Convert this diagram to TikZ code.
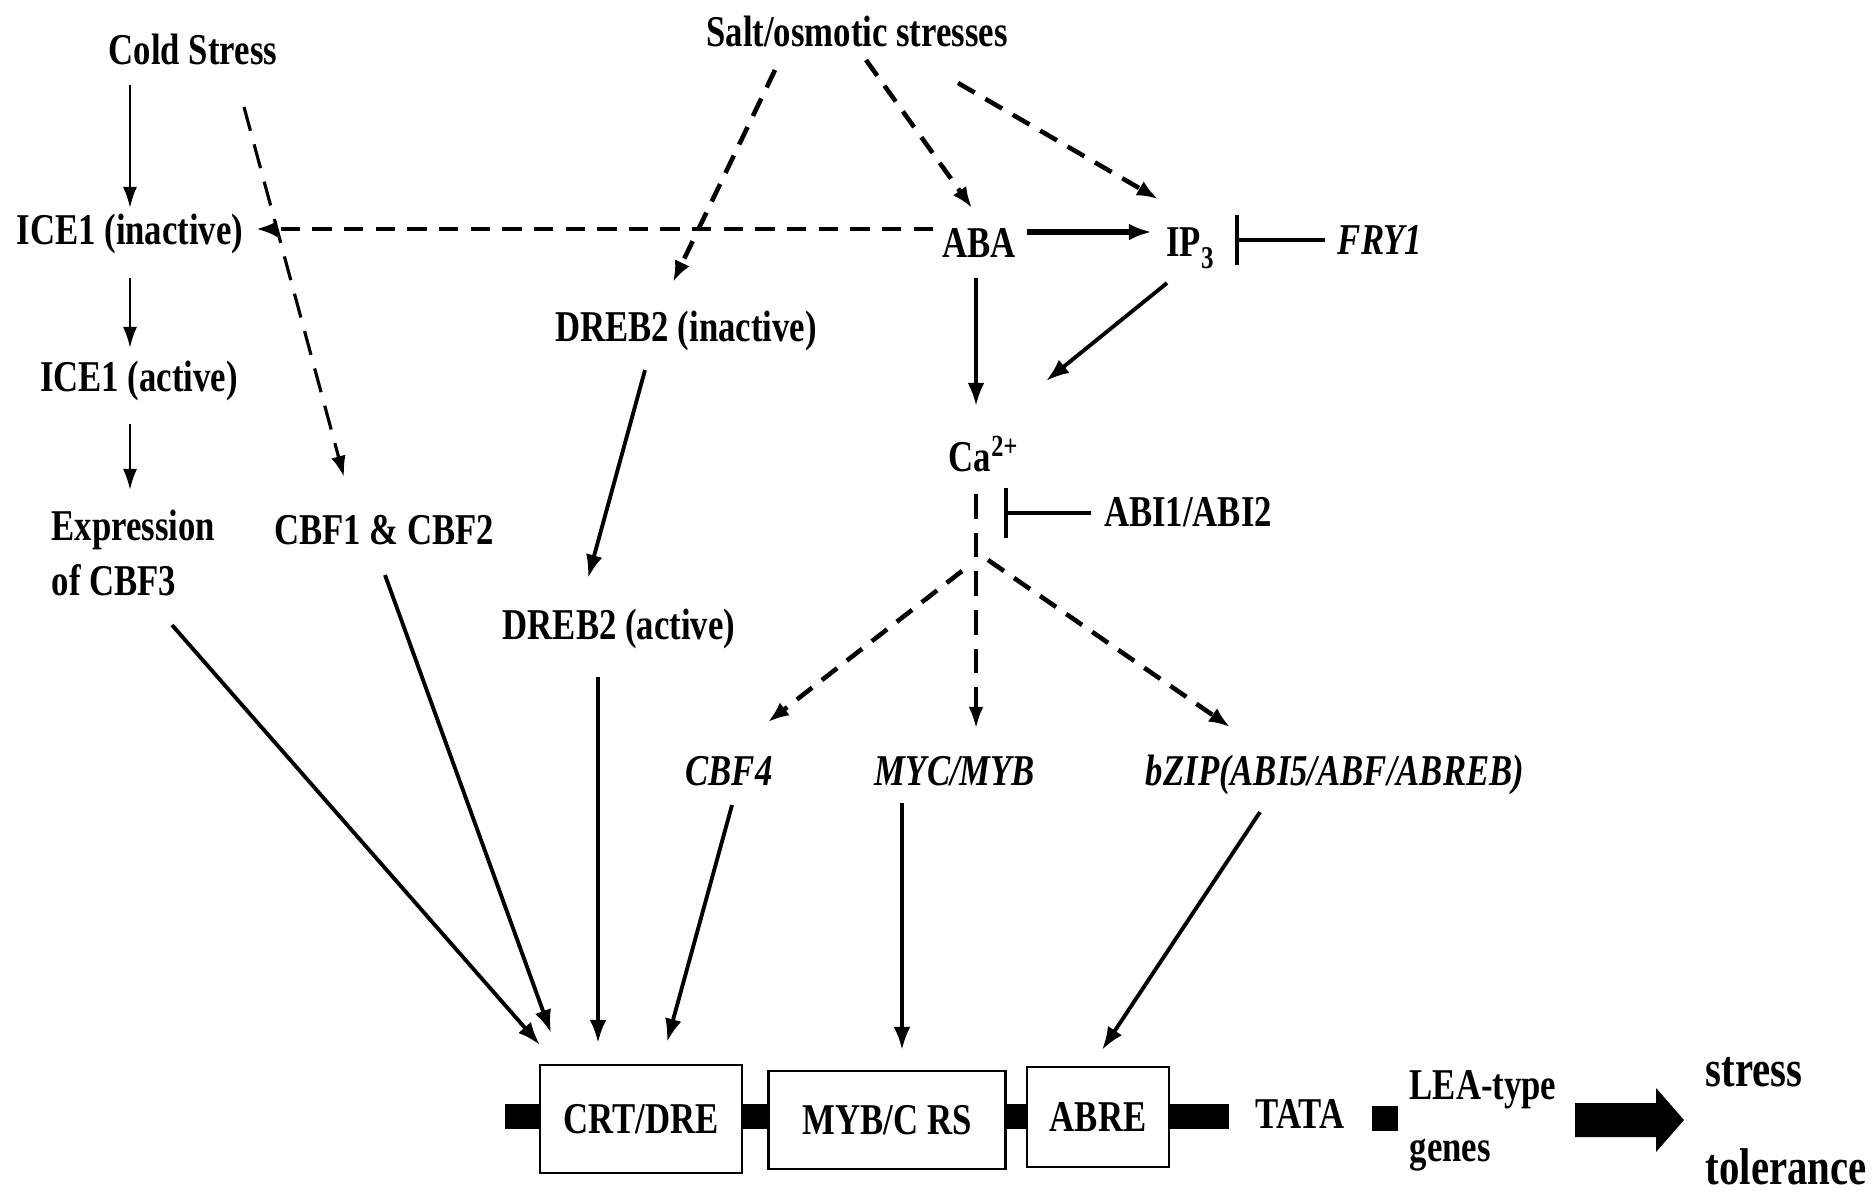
\documentclass[tikz,border=0pt]{standalone}
\usepackage{fontspec}
\setmainfont{Liberation Serif}[FakeStretch=0.79]
\usepackage{tikz}
\usetikzlibrary{shapes, arrows, arrows.meta}
\tikzstyle{txt} = [inner sep=0, text height=9pt, text depth=2.5pt, font=\fontsize{12.5}{15}\selectfont\bfseries]
\tikzstyle{itxt} = [txt, font=\fontsize{12.5}{15}\selectfont\bfseries\itshape]
\tikzstyle{mtxt} = [inner sep=0, align=left, anchor=west]
\tikzstyle{block} = [rectangle, draw, fill=white, line width=0.7pt, inner sep=0, font=\fontsize{12.5}{15}\selectfont\bfseries]
\tikzstyle{line} = [draw, line width=1.1pt, -{Latex[length=6.6pt, width=4.8pt]}]
\tikzstyle{thinline} = [draw, line width=0.7pt, -{Latex[length=6pt, width=4pt]}]
\tikzstyle{dline} = [draw, line width=1.3pt, dash pattern=on 5.5pt off 3.5pt, -{Latex[length=6pt, width=4.6pt]}]
\tikzstyle{longdash} = [draw, line width=0.9pt, dash pattern=on 7pt off 4pt, -{Latex[length=6pt, width=4.2pt]}]
\tikzstyle{inhibit} = [draw, line width=1.1pt, -{Bar[width=14pt, line width=1.1pt]}]

\begin{document}
\begin{tikzpicture}[x=0.01cm, y=-0.01cm]
	\useasboundingbox (0,0) rectangle (1874,1191);

	% Place nodes
	\node [txt] (Cold Stress) at (193,53) {Cold Stress};
	\node [txt] (Salt) at (857,35) {Salt/osmotic stresses};
	\node [txt] (ICE1 inactive) at (130,233) {ICE1 (inactive)};
	\node [txt] (ICE1 active) at (139,380) {ICE1 (active)};
	\node [mtxt, font=\fontsize{12.5}{15.4}\selectfont\bfseries] (Expression) at (51,553) {Expression\\of CBF3};
	\node [txt] (CBF12) at (384,533) {CBF1 \& CBF2};
	\node [txt] (DREB2 inactive) at (686,330) {DREB2 (inactive)};
	\node [txt] (DREB2 active) at (619,628) {DREB2 (active)};
	\node [txt] (ABA) at (979,246) {ABA};
	\node [txt] (IP3) at (1190,245) {IP\raisebox{-3.5pt}{\fontsize{9}{9}\selectfont 3}};
	\node [itxt] (FRY1) at (1380,243) {FRY1};
	\node [txt] (Ca) at (984,460) {Ca\textsuperscript{2+}};
	\node [txt] (ABI) at (1188,515) {ABI1/ABI2};
	\coordinate (branch) at (976,563);
	\node [itxt] (CBF4) at (729,774) {CBF4};
	\node [itxt] (MYC) at (955,774) {MYC/MYB};
	\node [itxt] (bZIP) at (1335,774) {bZIP(ABI5/ABF/ABREB)};

	% Promoter
	\draw [line width=0.25cm] (505,1116) -- (1229,1116);
	\node [block, minimum width=2.02cm, minimum height=1.08cm] (CRT) at (641,1119) {CRT/DRE};
	\node [block, minimum width=2.37cm, minimum height=0.98cm] (MYB) at (887,1120) {MYB/C RS};
	\node [block, minimum width=1.42cm, minimum height=1.0cm] (ABRE) at (1098,1117) {ABRE};
	\node [txt] (TATA) at (1300,1117) {TATA};
	\node [fill, inner sep=0, minimum width=0.26cm, minimum height=0.25cm] (sq) at (1385,1118) {};
	\node [mtxt, font=\fontsize{12.5}{17.6}\selectfont\bfseries] (LEA) at (1409,1121) {LEA-type\\genes};
	\fill (1575,1103) -- (1656,1103) -- (1656,1088) -- (1684,1120) -- (1656,1152) -- (1656,1137) -- (1575,1137) -- cycle;
	\node [mtxt, font=\fontsize{14.7}{27.9}\selectfont\bfseries] (tolerance) at (1705,1121) {stress\\tolerance};

	%Draw edges
	\path [thinline] ([shift={(-63,32)}]Cold Stress.center) -- ([shift={(0,-25)}]ICE1 inactive.center);
	\path [thinline] ([shift={(0,45)}]ICE1 inactive.center) -- ([shift={(-9,-32)}]ICE1 active.center);
	\path [thinline] ([shift={(-9,44)}]ICE1 active.center) -- ([shift={(79,-63)}]Expression.west);
	\path [longdash] ([shift={(51,54)}]Cold Stress.center) -- ([shift={(-40,-56)}]CBF12.center);
	\path [dline] ([shift={(-46,-17)}]ABA.center) -- ([shift={(126,-4)}]ICE1 inactive.center);
	\path [dline] ([shift={(-82,35)}]Salt.center) -- ([shift={(-13,-48)}]DREB2 inactive.center);
	\path [dline] ([shift={(9,25)}]Salt.center) -- ([shift={(-7,-38)}]ABA.center);
	\path [dline] ([shift={(101,48)}]Salt.center) -- ([shift={(-32,-46)}]IP3.center);
	\path [line, line width=1.5pt] ([shift={(48,-14)}]ABA.center) -- ([shift={(-38,-13)}]IP3.center);
	\path [inhibit] ([shift={(-55,-3)}]FRY1.center) -- ([shift={(45,-5)}]IP3.center);
	\path [line] ([shift={(-3,32)}]ABA.center) -- ([shift={(-8,-54)}]Ca.center);
	\path [line] ([shift={(-23,38)}]IP3.center) -- ([shift={(62,-79)}]Ca.center);
	\path [longdash] ([shift={(-8,34)}]Ca.center) -- ([shift={(21,-46)}]MYC.center);
	\path [inhibit] ([shift={(-97,-2)}]ABI.center) -- ([shift={(28,-50)}]branch);
	\path [dline] ([shift={(-14,8)}]branch) -- ([shift={(39,-52)}]CBF4.center);
	\path [dline] ([shift={(12,-3)}]branch) -- ([shift={(-105,-47)}]bZIP.center);
	\path [line] ([shift={(-41,40)}]DREB2 inactive.center) -- ([shift={(-31,-50)}]DREB2 active.center);
	\path [line] ([shift={(121,72)}]Expression.west) -- ([shift={(-101,-74)}]CRT.center);
	\path [line] ([shift={(1,42)}]CBF12.center) -- ([shift={(-90,-86)}]CRT.center);
	\path [line] ([shift={(-21,49)}]DREB2 active.center) -- ([shift={(-43,-76)}]CRT.center);
	\path [line] ([shift={(3,31)}]CBF4.center) -- ([shift={(26,-77)}]CRT.center);
	\path [line] ([shift={(-53,29)}]MYC.center) -- ([shift={(15,-70)}]MYB.center);
	\path [line] ([shift={(-75,38)}]bZIP.center) -- ([shift={(4,-67)}]ABRE.center);

\end{tikzpicture}
\end{document}
